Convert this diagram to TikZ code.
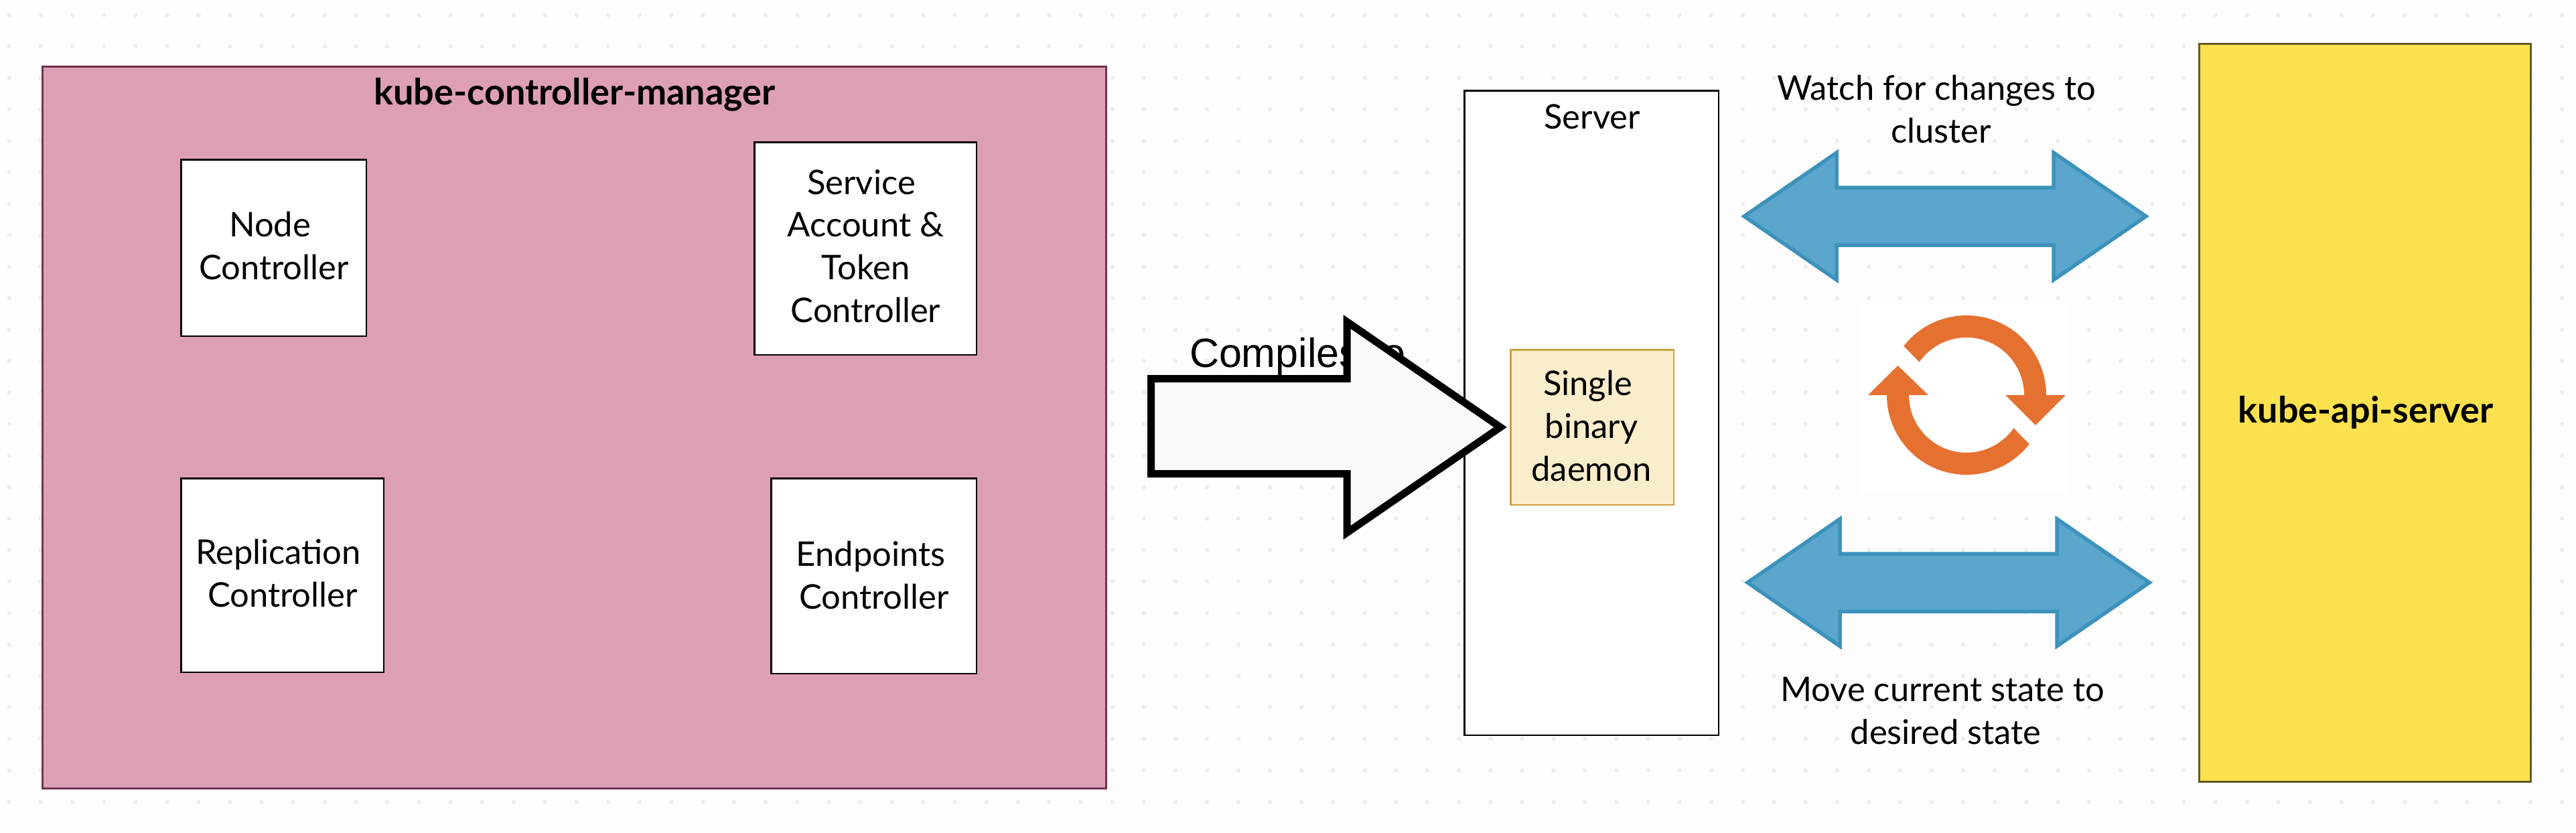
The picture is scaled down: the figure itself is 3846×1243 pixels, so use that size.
\documentclass[tikz,border=0pt]{standalone}
\usepackage{fontspec}
\setmainfont{Lato}
\newfontfamily\arialfont{Liberation Sans}
\definecolor{pagebg}{HTML}{FDFDFD}
\definecolor{griddot}{HTML}{EEEEEE}
\definecolor{pinkfill}{HTML}{DD9FB3}
\definecolor{pinkline}{HTML}{6E3350}
\definecolor{yellowfill}{HTML}{FCE14F}
\definecolor{yellowline}{HTML}{65591F}
\definecolor{creamfill}{HTML}{FAEDCB}
\definecolor{creamline}{HTML}{C9A23C}
\definecolor{bluefill}{HTML}{5AA6CC}
\definecolor{blueline}{HTML}{3C92BB}
\definecolor{cycleorange}{HTML}{E57131}
\newcommand{\tr}[1]{\hspace*{#1pt}}
\tikzset{
  boxbase/.style={draw,inner sep=0pt,outer sep=0pt,rectangle},
  whitebox/.style={boxbase,fill=white,draw=black,line width=2.5pt},
  pinkbox/.style={boxbase,fill=pinkfill,draw=pinkline,line width=3pt},
  yellowbox/.style={boxbase,fill=yellowfill,draw=yellowline,line width=3pt},
  creambox/.style={boxbase,fill=creamfill,draw=creamline,line width=2.5pt},
  label/.style={inner sep=0pt,outer sep=0pt,anchor=base,align=center,text=black,font=\fontsize{50.7}{63.8}\selectfont},
  boldlabel/.style={label,font=\fontsize{54}{64}\selectfont\bfseries},
  bluearrow/.style={fill=bluefill,draw=blueline,line width=5.5pt,miter limit=10},
}
\begin{document}
\begin{tikzpicture}[x=1pt,y=-1pt]
\useasboundingbox (0,0) rectangle (3846,1243);
\fill[pagebg] (0,0) rectangle (3846,1243);
\foreach \i in {0,...,81}{\foreach \j in {0,...,25}{
  \fill[griddot] ({14+47.05*\i},{22.3+47*\j}) circle[radius=3.3pt];}}
% white patch of the cycle image
\fill[white] (2776,455) rectangle (3088,738);
% controller manager
\node[pinkbox,minimum width=1588pt,minimum height=1078pt] (mgr) at (857.5,638) {};
\node[boldlabel] (mgrt) at (858,156) {kube-controller-manager};
\node[whitebox,minimum width=276.5pt,minimum height=263.5pt] (nodebox) at (408.5,370) {};
\node[label] (nodet) at (409,417) {Node\tr{12}\\Controller};
\node[whitebox,minimum width=331.5pt,minimum height=317.5pt] (svcbox) at (1292,371) {};
\node[label] (svct) at (1292.5,481.5) {Service\tr{13}\\Account \&\tr{13}\\Token\tr{15}\\Controller};
\node[whitebox,minimum width=302.5pt,minimum height=289.5pt] (repbox) at (421.5,859) {};
\node[label] (rept) at (422,906) {Replication\tr{13}\\Controller};
\node[whitebox,minimum width=306.5pt,minimum height=291.5pt] (endbox) at (1304.5,860) {};
\node[label] (endt) at (1305,909) {Endpoints\tr{10}\\Controller};
% compile label, behind the arrow
\node[inner sep=0pt,outer sep=0pt,anchor=base west,font=\fontsize{61}{70}\selectfont\arialfont] (compile) at (1776,548) {Compiles to};
% server
\node[whitebox,minimum width=379.5pt,minimum height=962.5pt] (server) at (2376,616.5) {};
\node[label] (servert) at (2377,192) {Server};
\node[creambox,minimum width=243.5pt,minimum height=231.5pt] (single) at (2377,638) {};
\node[label] (singlet) at (2376,718) {Single\tr{11}\\binary\tr{11}\\daemon};
% big arrow
\draw[fill=pagebg!60!white!98!black,draw=black,line width=11pt,miter limit=10]
  (1718.5,565.5) -- (2011,565.5) -- (2011,480.5) -- (2240,638) -- (2011,795.5) -- (2011,707.5) -- (1718.5,707.5) -- cycle;
% double arrows
\draw[bluearrow] (2604,323) -- (2742,228) -- (2742,280) -- (3066,280) -- (3066,228) -- (3204,323)
  -- (3066,418) -- (3066,366) -- (2742,366) -- (2742,418) -- cycle;
\draw[bluearrow] (2609,870) -- (2747,775) -- (2747,827) -- (3071,827) -- (3071,775) -- (3209,870)
  -- (3071,965) -- (3071,913) -- (2747,913) -- (2747,965) -- cycle;
\node[label] (watch) at (2898,213.5) {Watch for changes to\tr{14}\\cluster};
\node[label] (move) at (2905,1111) {Move current state to\tr{10}\\desired state};
% cycle icon
\begin{scope}[shift={(2936pt,-590pt)},x=1pt,y=1pt]
\fill[cycleorange] (142:119pt) arc[start angle=142,end angle=0,radius=119pt]
  -- (148,0) -- (103,-45) -- (58,0) -- (86,0) arc[start angle=0,end angle=145,radius=86pt] -- cycle;
\fill[cycleorange] (322:119pt) arc[start angle=322,end angle=180,radius=119pt]
  -- (-147,0) -- (-102.5,44) -- (-57,0) -- (-86,0) arc[start angle=180,end angle=325,radius=86pt] -- cycle;
\end{scope}
% api server
\node[yellowbox,minimum width=495pt,minimum height=1102pt] (api) at (3531,616.5) {};
\node[boldlabel] (apit) at (3532,631) {kube-api-server};
\end{tikzpicture}
\end{document}
